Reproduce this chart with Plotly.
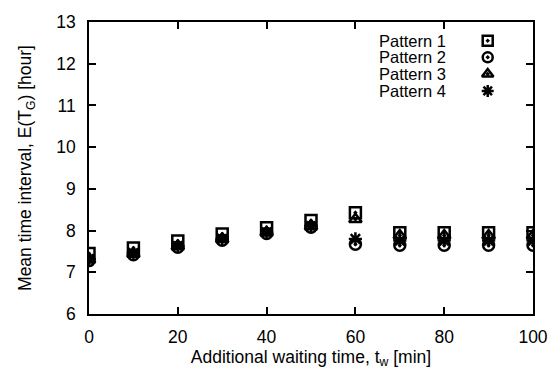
import plotly.graph_objects as go

# Data
x_wait = [0, 10, 20, 30, 40, 50, 60, 70, 80, 90, 100]
pattern1 = [7.45, 7.58, 7.75, 7.92, 8.07, 8.24, 8.43, 7.95, 7.95, 7.95, 7.95]
pattern2 = [7.28, 7.42, 7.60, 7.77, 7.93, 8.08, 7.67, 7.65, 7.65, 7.65, 7.65]
pattern3 = [7.30, 7.44, 7.62, 7.79, 7.95, 8.10, 8.27, 7.88, 7.88, 7.88, 7.88]
pattern4 = [7.32, 7.46, 7.63, 7.80, 7.96, 8.11, 7.80, 7.76, 7.76, 7.76, 7.76]
names = ["Pattern 1", "Pattern 2", "Pattern 3", "Pattern 4"]
series = [pattern1, pattern2, pattern3, pattern4]
symbols = ["square-open-dot", "circle-open-dot", "triangle-up-open-dot", "asterisk-open"]
x_ticks = [0, 20, 40, 60, 80, 100]
y_ticks = [6, 7, 8, 9, 10, 11, 12, 13]

FONT = "Liberation Sans, Arial, sans-serif"
fig = go.Figure()
for name, ys, sym in zip(names, series, symbols):
    fig.add_trace(go.Scatter(
        x=x_wait, y=ys, mode="markers", name=name, showlegend=False,
        marker=dict(symbol=sym, size=11, color="black",
                    line=dict(color="black", width=2.5)),
    ))

# custom gnuplot-style key (text left, symbol right)
key_rows = [0.936, 0.879, 0.822, 0.764]
annotations = []
for name, sym, yr in zip(names, symbols, key_rows):
    annotations.append(dict(
        x=0.807, y=yr, xref="paper", yref="paper", text=name, showarrow=False,
        xanchor="right", yanchor="middle", borderpad=0,
        font=dict(family=FONT, size=16.5, color="black")))
    fig.add_trace(go.Scatter(
        x=[0.898], y=[yr], xaxis="x2", yaxis="y2", mode="markers", showlegend=False,
        hoverinfo="skip",
        marker=dict(symbol=sym, size=10, color="black", line=dict(color="black", width=2.5)),
    ))

axis_common = dict(
    showline=True, linecolor="black", linewidth=1.5, mirror="allticks",
    ticks="inside", ticklen=7, tickwidth=1.5, tickcolor="black",
    showgrid=False, zeroline=False,
    tickfont=dict(family=FONT, size=17.5, color="black"),
)
fig.update_layout(
    width=560, height=378,
    margin=dict(l=89, r=21, t=13, b=64),
    paper_bgcolor="white", plot_bgcolor="white",
    font=dict(family=FONT, size=17.5, color="black"),
    xaxis=dict(range=[0, 100], tickvals=x_ticks, ticklabelstandoff=6,
               title=dict(text="Additional waiting time, t<sub>w</sub> [min]",
                          font=dict(family=FONT, size=17.5), standoff=4),
               **axis_common),
    yaxis=dict(range=[6, 13], tickvals=y_ticks, ticklabelstandoff=8,
               title=dict(text="Mean time interval, E(T<sub>G</sub>) [hour]",
                          font=dict(family=FONT, size=17.5), standoff=20),
               **axis_common),
    xaxis2=dict(range=[0, 1], overlaying="x", visible=False),
    yaxis2=dict(range=[0, 1], overlaying="y", visible=False),
    annotations=annotations,
)
fig.write_html("out.html")
